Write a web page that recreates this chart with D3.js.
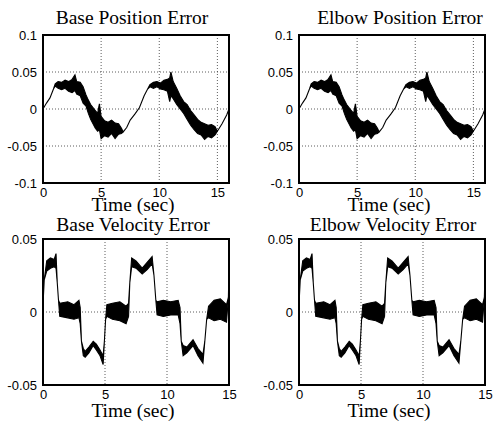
<!DOCTYPE html>
<html>
<head>
<meta charset="utf-8">
<script src="https://cdn.jsdelivr.net/npm/d3@7"></script>
<style>
  body { margin: 0; background: #fff; }
  svg { display: block; }
</style>
</head>
<body>
<div id="chart"></div>
<script>
// position error: time, lower and upper edge of the noisy band
var posT  = [0, 0.3, 0.6, 0.9, 1.05, 1.3, 1.6, 1.9, 2.2, 2.5, 2.75, 2.9, 3.2, 3.45, 3.7, 3.9, 4.1, 4.3, 4.5, 4.7, 4.85, 5.0, 5.3, 5.6, 5.9, 6.2, 6.5, 6.75, 6.9, 7.2, 7.5, 7.9, 8.3, 8.7, 9.0, 9.2, 9.5, 9.8, 10.1, 10.4, 10.7, 10.9, 11.0, 11.2, 11.5, 11.8, 12.1, 12.4, 12.7, 13.0, 13.3, 13.6, 13.9, 14.2, 14.5, 14.8, 15.0, 15.4, 15.8, 16];
var posLo = [0, 0.008, 0.015, 0.027, 0.031, 0.028, 0.026, 0.028, 0.024, 0.022, 0.025, 0.020, 0.018, 0.008, 0.004, -0.006, -0.014, -0.020, -0.026, -0.030, -0.028, -0.040, -0.036, -0.038, -0.033, -0.040, -0.034, -0.033, -0.031, -0.025, -0.015, -0.007, 0.002, 0.018, 0.027, 0.030, 0.028, 0.030, 0.027, 0.026, 0.024, 0.010, 0.018, 0.014, 0.006, 0.000, -0.006, -0.014, -0.022, -0.028, -0.033, -0.035, -0.041, -0.037, -0.039, -0.035, -0.030, -0.020, -0.008, 0];
var posHi = [0, 0.008, 0.015, 0.027, 0.034, 0.037, 0.036, 0.039, 0.037, 0.040, 0.046, 0.037, 0.036, 0.030, 0.019, 0.012, 0.006, 0.002, -0.002, -0.006, 0.007, -0.010, -0.016, -0.018, -0.015, -0.019, -0.020, -0.026, -0.031, -0.025, -0.015, -0.007, 0.002, 0.018, 0.027, 0.033, 0.036, 0.037, 0.035, 0.039, 0.040, 0.042, 0.050, 0.037, 0.028, 0.018, 0.010, 0.006, -0.002, -0.008, -0.014, -0.018, -0.020, -0.022, -0.021, -0.024, -0.030, -0.020, -0.008, 0];

// velocity error
var velT  = [0, 0.1, 0.3, 0.6, 0.9, 1.05, 1.15, 1.25, 1.35, 2.0, 2.5, 2.9, 3.0, 3.1, 3.25, 3.4, 3.7, 4.05, 4.3, 4.6, 4.85, 4.95, 5.05, 5.15, 5.6, 6.2, 6.7, 6.9, 7.0, 7.15, 7.5, 8.0, 8.4, 8.8, 8.95, 9.1, 9.2, 9.7, 10.3, 10.9, 11.05, 11.15, 11.3, 11.6, 12.1, 12.5, 12.9, 13.05, 13.2, 13.35, 13.8, 14.3, 14.8, 14.95, 15];
var velLo = [0.005, 0.022, 0.028, 0.030, 0.031, 0.030, 0.020, 0.008, -0.003, -0.004, -0.005, -0.004, -0.008, -0.020, -0.030, -0.031, -0.028, -0.023, -0.026, -0.030, -0.036, -0.020, -0.005, -0.003, -0.005, -0.006, -0.008, -0.003, 0.020, 0.031, 0.030, 0.026, 0.029, 0.033, 0.025, 0.008, -0.002, -0.003, -0.002, -0.002, -0.008, -0.020, -0.030, -0.028, -0.023, -0.030, -0.035, -0.020, -0.005, -0.004, -0.006, -0.005, -0.007, 0.010, 0.030];
var velHi = [0.005, 0.022, 0.035, 0.037, 0.036, 0.040, 0.020, 0.008, 0.006, 0.007, 0.005, 0.008, 0.003, -0.020, -0.025, -0.027, -0.024, -0.020, -0.022, -0.026, -0.030, -0.020, -0.005, 0.005, 0.006, 0.007, 0.004, 0.006, 0.020, 0.037, 0.035, 0.030, 0.034, 0.038, 0.025, 0.008, 0.007, 0.008, 0.007, 0.008, 0.003, -0.020, -0.023, -0.024, -0.019, -0.025, -0.029, -0.020, -0.005, 0.004, 0.008, 0.009, 0.005, 0.010, 0.030];

// the elbow traces look the same as the base ones in the picture
var panels = [
  { title: "Base Position Error",  t: posT, lo: posLo, hi: posHi, kind: "pos", col: 0, row: 0, titleX: 132 },
  { title: "Elbow Position Error", t: posT, lo: posLo, hi: posHi, kind: "pos", col: 1, row: 0, titleX: 400 },
  { title: "Base Velocity Error",  t: velT, lo: velLo, hi: velHi, kind: "vel", col: 0, row: 1, titleX: 133 },
  { title: "Elbow Velocity Error", t: velT, lo: velLo, hi: velHi, kind: "vel", col: 1, row: 1, titleX: 393 }
];

var posXTicks = [0, 5, 10, 15];
var posYTicks = [0.1, 0.05, 0, -0.05, -0.1];
var velXTicks = [0, 5, 10, 15];
var velYTicks = [0.05, 0, -0.05];

var width = 494, height = 426;
var colLeft = [43, 299];
var plotW = 186;
var rowTop = [35, 239];
var rowH = [148, 146];

var svg = d3.select("#chart").append("svg")
  .attr("width", width)
  .attr("height", height);

panels.forEach(function (p) {
  var x0 = colLeft[p.col], y0 = rowTop[p.row], h = rowH[p.row];
  var isPos = p.kind == "pos";

  var x = d3.scaleLinear()
    .domain(isPos ? [0, 16] : [0, 15])
    .range([x0, x0 + plotW]);
  var y = d3.scaleLinear()
    .domain(isPos ? [-0.1, 0.1] : [-0.05, 0.05])
    .range([y0 + h, y0]);

  var xt = isPos ? posXTicks : velXTicks;
  var yt = isPos ? posYTicks : velYTicks;
  var g = svg.append("g");

  // dotted grid
  g.append("g").selectAll("line")
    .data(xt.filter(function (d) { return d > x.domain()[0] && d < x.domain()[1]; }))
    .join("line")
      .attr("x1", d => x(d)).attr("x2", d => x(d))
      .attr("y1", y0).attr("y2", y0 + h)
      .attr("stroke", "#333").attr("stroke-width", 0.8)
      .attr("stroke-dasharray", "1,2");
  g.append("g").selectAll("line")
    .data(yt.filter(function (d) { return d > y.domain()[0] && d < y.domain()[1]; }))
    .join("line")
      .attr("x1", x0).attr("x2", x0 + plotW)
      .attr("y1", d => y(d)).attr("y2", d => y(d))
      .attr("stroke", "#333").attr("stroke-width", 0.8)
      .attr("stroke-dasharray", "1,2");

  // trace as a band between the lower and upper edge
  var idx = d3.range(p.t.length);
  var band = d3.area()
    .x(i => x(p.t[i]))
    .y0(i => y(p.lo[i]))
    .y1(i => y(p.hi[i]));
  g.append("path")
    .datum(idx)
    .attr("d", band)
    .attr("fill", "#000")
    .attr("stroke", "#000")
    .attr("stroke-width", 1.1)
    .attr("stroke-linejoin", "miter");

  // frame
  g.append("rect")
    .attr("x", x0).attr("y", y0)
    .attr("width", plotW).attr("height", h)
    .attr("fill", "none").attr("stroke", "#000").attr("stroke-width", 2);

  // axes (labels only)
  var ya = g.append("g")
    .attr("transform", `translate(${x0},0)`)
    .call(d3.axisLeft(y).tickValues(yt).tickSize(0).tickPadding(6).tickFormat(d => d == 0 ? "0" : String(d)));
  var xa = g.append("g")
    .attr("transform", `translate(0,${y0 + h})`)
    .call(d3.axisBottom(x).tickValues(xt).tickSize(0).tickPadding(5));
  [ya, xa].forEach(function (a) {
    a.select(".domain").remove();
    a.selectAll("text")
      .attr("font-family", "Liberation Sans, Arial, sans-serif")
      .attr("font-size", "13px")
      .attr("fill", "#000");
  });

  g.append("text")
    .attr("x", p.titleX).attr("y", p.row == 0 ? 24 : 231)
    .attr("text-anchor", "middle")
    .attr("font-family", "Liberation Serif, Times New Roman, serif")
    .attr("font-size", "19.5px")
    .text(p.title);

  g.append("text")
    .attr("x", x0 + plotW / 2 - 3).attr("y", p.row == 0 ? 211 : 417)
    .attr("text-anchor", "middle")
    .attr("font-family", "Liberation Serif, Times New Roman, serif")
    .attr("font-size", "19.5px")
    .text("Time (sec)");
});
</script>
</body>
</html>
